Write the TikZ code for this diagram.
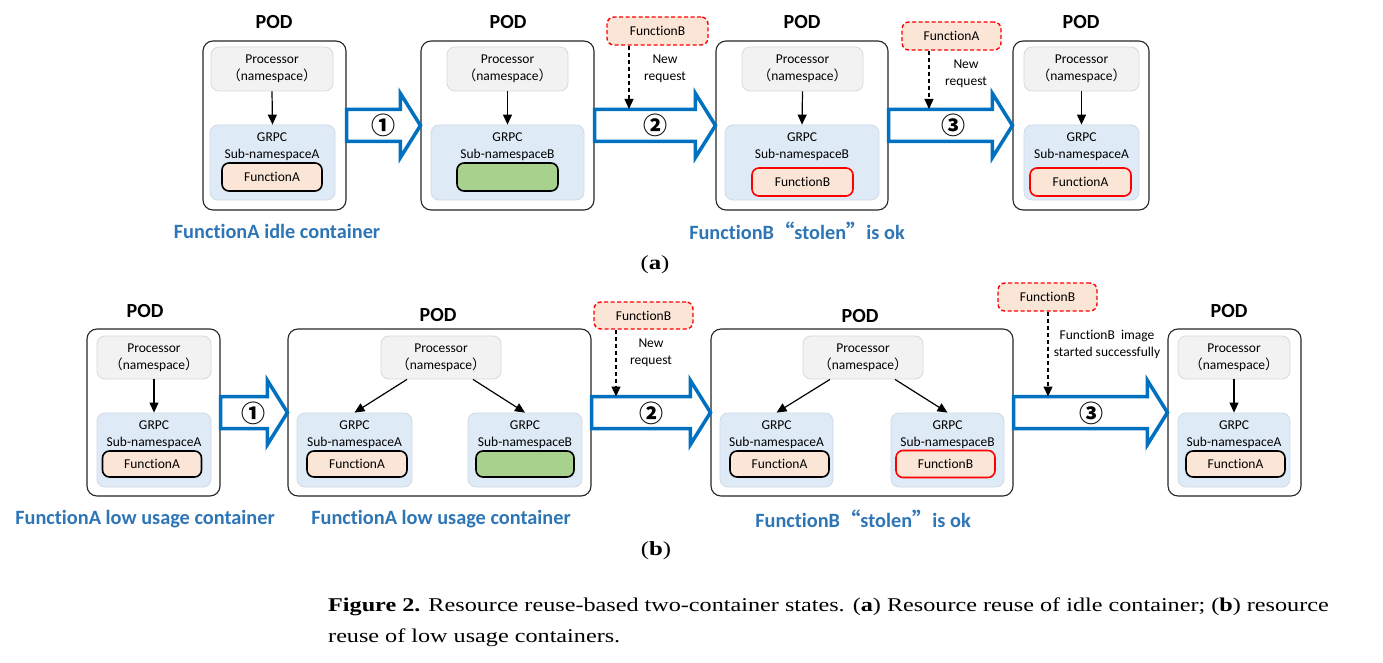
\documentclass[tikz,border=0pt]{standalone}
\usepackage{fontspec}
\setmainfont{Carlito}[Ligatures=NoCommon]
\newfontfamily\cjk{Noto Sans CJK SC}
\newfontfamily\capfont[FakeStretch=1.24]{Liberation Serif}
\usetikzlibrary{arrows.meta,calc}
\definecolor{procfill}{HTML}{F2F2F2}
\definecolor{procdraw}{HTML}{D9D9D9}
\definecolor{grpcfill}{HTML}{DEEBF7}
\definecolor{grpcdraw}{HTML}{D0D9E4}
\definecolor{funcfill}{HTML}{FBE5D6}
\definecolor{emptyfill}{HTML}{A9D18E}
\definecolor{arrowblue}{HTML}{0070C0}
\definecolor{labelblue}{HTML}{2E75B6}
\newcommand\smallt{\fontsize{13.5}{17}\selectfont}
\newcommand\myns{{\cjk （}namespace{\cjk ）}}
\newcommand\blockarr[3]{%
  \draw[blockstyle] ($(#1)+(0,-16)$) -- ($(#2)+(-#3,-16)$) -- ($(#2)+(-#3,-32)$) -- (#2)
    -- ($(#2)+(-#3,32)$) -- ($(#2)+(-#3,16)$) -- ($(#1)+(0,16)$) -- cycle;}
\tikzset{
  pod/.style={draw=black!85, line width=1.1pt, rounded corners=10pt, fill=white, inner sep=0pt},
  proc/.style={draw=procdraw, line width=0.8pt, fill=procfill, rounded corners=8pt, inner sep=0pt, font=\smallt, align=center},
  grpc/.style={draw=grpcdraw, line width=0.8pt, fill=grpcfill, rounded corners=8pt, inner sep=0pt},
  func/.style={draw=black, line width=1.6pt, fill=funcfill, rounded corners=7pt, inner sep=0pt, font=\smallt},
  funcred/.style={func, draw=red},
  emptyfn/.style={func, fill=emptyfill},
  req/.style={draw=red, dash pattern=on 4pt off 2.5pt, line width=1.4pt, fill=funcfill, rounded corners=7pt, inner sep=0pt, font=\smallt},
  podlbl/.style={font=\fontsize{20}{24}\selectfont\bfseries},
  bluelbl/.style={font=\fontsize{20.3}{24}\selectfont\bfseries, text=labelblue},
  txt/.style={font=\smallt, align=center, inner sep=0pt},
  arr/.style={-{Triangle[width=9pt,length=10pt]}, line width=1.2pt},
  dasharr/.style={arr, dash pattern=on 4pt off 3pt},
  blockstyle/.style={draw=arrowblue, line width=3.5pt, fill=white, line join=miter},
  numlbl/.style={font=\cjk\fontsize{24}{26}\selectfont\bfseries},
  caplbl/.style={font=\capfont\fontsize{20}{24}\selectfont},
  captxt/.style={font=\capfont\fontsize{19.5}{24}\selectfont, anchor=west, inner sep=0pt}
}
\begin{document}
\begin{tikzpicture}[x=1pt,y=-1pt]
\useasboundingbox (0,0) rectangle (1383,663);

% ================= Panel (a) =================
% POD a1
\node[podlbl] (la1) at (274,22) {POD};
\node[pod, minimum width=143pt, minimum height=169pt] (poda1) at (274.5,125.5) {};
\node[proc, minimum width=122pt, minimum height=44pt] (pa1) at (272,69) {Processor\\\myns};
\node[grpc, minimum width=125pt, minimum height=75pt] (ga1) at (272.5,162.5) {};
\node[txt] (ta1) at (272,146.5) {GRPC\\Sub-namespaceA};
\node[func, minimum width=100pt, minimum height=28pt] (fa1) at (272,177) {FunctionA};
\draw[arr] (pa1.south) -- (ga1.north);
\node[bluelbl] (ba1) at (277,231) {FunctionA idle container};

% POD a2
\node[podlbl] (la2) at (508,22) {POD};
\node[pod, minimum width=173pt, minimum height=169pt] (poda2) at (507.5,125.5) {};
\node[proc, minimum width=121pt, minimum height=44pt] (pa2) at (507.5,69) {Processor\\\myns};
\node[grpc, minimum width=153pt, minimum height=75pt] (ga2) at (507.5,162.5) {};
\node[txt] (ta2) at (507.5,146.5) {GRPC\\Sub-namespaceB};
\node[emptyfn, minimum width=101pt, minimum height=28pt] (fa2) at (507.5,177) {};
\draw[arr] (pa2.south) -- (ga2.north);

% POD a3
\node[podlbl] (la3) at (802,22) {POD};
\node[pod, minimum width=172pt, minimum height=169pt] (poda3) at (802,125.5) {};
\node[proc, minimum width=121pt, minimum height=44pt] (pa3) at (802.5,69) {Processor\\\myns};
\node[grpc, minimum width=154pt, minimum height=75pt] (ga3) at (802,162.5) {};
\node[txt] (ta3) at (802,146.5) {GRPC\\Sub-namespaceB};
\node[funcred, minimum width=101pt, minimum height=28pt] (fa3) at (802.5,182) {FunctionB};
\draw[arr] (pa3.south) -- (ga3.north);
\node[bluelbl] (ba3) at (797,231) {FunctionB{\cjk “}stolen{\cjk ”}is ok};

% POD a4
\node[podlbl] (la4) at (1081,22) {POD};
\node[pod, minimum width=136pt, minimum height=169pt] (poda4) at (1081,125.5) {};
\node[proc, minimum width=115pt, minimum height=44pt] (pa4) at (1081.5,69) {Processor\\\myns};
\node[grpc, minimum width=115pt, minimum height=75pt] (ga4) at (1081.5,162.5) {};
\node[txt] (ta4) at (1081.5,146.5) {GRPC\\Sub-namespaceA};
\node[funcred, minimum width=101pt, minimum height=28pt] (fa4) at (1080.5,182) {FunctionA};
\draw[arr] (pa4.south) -- (ga4.north);

% block arrows (a)
\blockarr{poda1.east}{poda2.west}{20}
\node[numlbl] (na1) at (383,125) {①};
\blockarr{poda2.east}{poda3.west}{20}
\node[numlbl] (na2) at (655,125) {②};
\blockarr{poda3.east}{poda4.west}{20}
\node[numlbl] (na3) at (953,125) {③};

% requests (a)
\node[req, minimum width=101pt, minimum height=28pt] (ra2) at (657.5,31) {FunctionB};
\coordinate (ra2t) at (629,109);
\draw[dasharr] (ra2.south -| ra2t) -- (ra2t);
\node[txt] (qa2) at (665,69) {New\\request};
\node[req, minimum width=99pt, minimum height=28pt] (ra3) at (951.5,36) {FunctionA};
\coordinate (ra3t) at (929,109);
\draw[dasharr] (ra3.south -| ra3t) -- (ra3t);
\node[txt] (qa3) at (966,74) {New\\request};

\node[caplbl] (capa) at (655,265) {(\textbf{a})};

% ================= Panel (b) =================
% POD b1
\node[podlbl] (lb1) at (145,311) {POD};
\node[pod, minimum width=133pt, minimum height=167pt] (podb1) at (153.5,412.5) {};
\node[proc, minimum width=114pt, minimum height=43pt] (pb1) at (154,357.5) {Processor\\\myns};
\node[grpc, minimum width=114pt, minimum height=74pt] (gb1) at (154,450) {};
\node[txt] (tb1) at (154,434.5) {GRPC\\Sub-namespaceA};
\node[func, minimum width=99pt, minimum height=26pt] (fb1) at (152,464) {FunctionA};
\draw[arr] (pb1.south) -- (gb1.north);
\node[bluelbl] (bb1) at (145,519) {FunctionA low usage container};

% POD b2
\node[podlbl] (lb2) at (438,315) {POD};
\node[pod, minimum width=303pt, minimum height=167pt] (podb2) at (439.5,412.5) {};
\node[proc, minimum width=120pt, minimum height=43pt] (pb2) at (441,357.5) {Processor\\\myns};
\node[grpc, minimum width=115pt, minimum height=74pt] (gb2a) at (354.5,450) {};
\node[txt] (tb2a) at (354.5,434.5) {GRPC\\Sub-namespaceA};
\node[func, minimum width=100pt, minimum height=26pt] (fb2a) at (357,464) {FunctionA};
\node[grpc, minimum width=114pt, minimum height=74pt] (gb2b) at (525,450) {};
\node[txt] (tb2b) at (525,434.5) {GRPC\\Sub-namespaceB};
\node[emptyfn, minimum width=98pt, minimum height=26pt] (fb2b) at (525,464) {};
\draw[arr] ($(pb2.south)+(-34,0)$) -- (gb2a.north);
\draw[arr] ($(pb2.south)+(32,0)$) -- (gb2b.north);
\node[bluelbl] (bb2) at (441,519) {FunctionA low usage container};

% POD b3
\node[podlbl] (lb3) at (860,316) {POD};
\node[pod, minimum width=302pt, minimum height=167pt] (podb3) at (862,412.5) {};
\node[proc, minimum width=120pt, minimum height=43pt] (pb3) at (863,357.5) {Processor\\\myns};
\node[grpc, minimum width=113pt, minimum height=74pt] (gb3a) at (776.5,450) {};
\node[txt] (tb3a) at (776.5,434.5) {GRPC\\Sub-namespaceA};
\node[func, minimum width=99pt, minimum height=26pt] (fb3a) at (779.5,464) {FunctionA};
\node[grpc, minimum width=113pt, minimum height=74pt] (gb3b) at (947.5,450) {};
\node[txt] (tb3b) at (947.5,434.5) {GRPC\\Sub-namespaceB};
\node[funcred, minimum width=99pt, minimum height=27pt] (fb3b) at (945.5,464) {FunctionB};
\draw[arr] ($(pb3.south)+(-33,0)$) -- (gb3a.north);
\draw[arr] ($(pb3.south)+(32,0)$) -- (gb3b.north);
\node[bluelbl] (bb3) at (863,519) {FunctionB{\cjk “}stolen{\cjk ”}is ok};

% POD b4
\node[podlbl] (lb4) at (1229,311) {POD};
\node[pod, minimum width=133pt, minimum height=167pt] (podb4) at (1234.5,412.5) {};
\node[proc, minimum width=112pt, minimum height=43pt] (pb4) at (1234,357.5) {Processor\\\myns};
\node[grpc, minimum width=112pt, minimum height=74pt] (gb4) at (1234,450) {};
\node[txt] (tb4) at (1234,434.5) {GRPC\\Sub-namespaceA};
\node[func, minimum width=99pt, minimum height=26pt] (fb4) at (1235.5,464) {FunctionA};
\draw[arr] (pb4.south) -- (gb4.north);

% block arrows (b)
\blockarr{podb1.east}{podb2.west}{20}
\node[numlbl] (nb1) at (253,413) {①};
\blockarr{podb2.east}{podb3.west}{20}
\node[numlbl] (nb2) at (651,413) {②};
\blockarr{podb3.east}{podb4.west}{20}
\node[numlbl] (nb3) at (1091,413) {③};

% requests (b)
\node[req, minimum width=99pt, minimum height=27pt] (rb2) at (643.5,315.5) {FunctionB};
\coordinate (rb2t) at (616,396.5);
\draw[dasharr] (rb2.south -| rb2t) -- (rb2t);
\node[txt] (qb2) at (651,353) {New\\request};
\node[req, minimum width=99pt, minimum height=28pt] (rb3) at (1047.5,297) {FunctionB};
\coordinate (rb3t) at (1048,396.5);
\draw[dasharr] (rb3.south -| rb3t) -- (rb3t);
\node[txt] (qb3) at (1107,344) {FunctionB\ \ image\\started successfully};

\node[caplbl] (capb) at (656,551) {(\textbf{b})};

% caption
\node[captxt] (cap1) at (328,607) {\textbf{Figure 2.} Resource reuse-based two-container states. (\textbf{a}) Resource reuse of idle container; (\textbf{b}) resource};
\node[captxt] (cap2) at (328,638) {reuse of low usage containers.};
\end{tikzpicture}
\end{document}
